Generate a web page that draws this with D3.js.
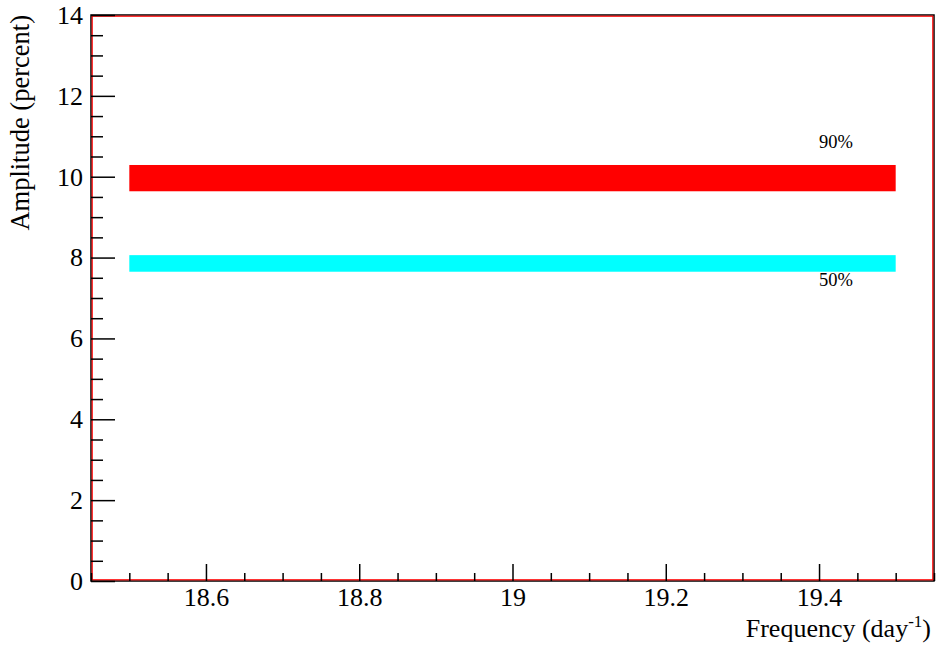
<!DOCTYPE html>
<html><head><meta charset="utf-8">
<script src="https://cdn.jsdelivr.net/npm/d3@7"></script>
<style>
html,body{margin:0;padding:0;background:#fff;}
text{font-family:"Liberation Serif","Times New Roman",serif;fill:#000;}
</style></head>
<body>
<svg id="chart" width="939" height="649"></svg>
<script>
// ---- data ----
const xDomain = [18.45, 19.55];
const yDomain = [0, 14];
const xMajorTicks = [18.6, 18.8, 19.0, 19.2, 19.4];
const xTickLabels = ["18.6", "18.8", "19", "19.2", "19.4"];
const yMajorTicks = [0, 2, 4, 6, 8, 10, 12, 14];
const yTickLabels = ["0", "2", "4", "6", "8", "10", "12", "14"];
const xMinorTicks = [18.45, 18.5, 18.55, 18.65, 18.7, 18.75, 18.85, 18.9, 18.95, 19.05, 19.1, 19.15, 19.25, 19.3, 19.35, 19.45, 19.5, 19.55];
const yMinorTicks = [0.5, 1, 1.5, 2.5, 3, 3.5, 4.5, 5, 5.5, 6.5, 7, 7.5, 8.5, 9, 9.5, 10.5, 11, 11.5, 12.5, 13, 13.5];
const bandNames = ["90%", "50%"];
const bandFrom = [18.5, 18.5];
const bandTo = [19.5, 19.5];
const bandLow = [9.64, 7.65];
const bandHigh = [10.29, 8.06];
const labelX = [19.4, 19.4];
const labelY = [10.7, 7.3];
const xTitle = "Frequency (day";
const xTitleSup = "-1";
const yTitle = "Amplitude (percent)";

// ---- layout ----
const L = 91, R = 934, T = 15, B = 581;
const bandColors = ["#ff0000", "#00ffff"];
const svg = d3.select("#chart");
svg.append("rect").attr("width", 939).attr("height", 649).attr("fill", "#fff");

const x = d3.scaleLinear().domain(xDomain).range([L, R]);
const y = d3.scaleLinear().domain(yDomain).range([B, T]);

// bands
svg.selectAll("rect.band").data(bandNames).join("rect")
  .attr("class", "band")
  .attr("x", (d, i) => x(bandFrom[i]))
  .attr("width", (d, i) => x(bandTo[i]) - x(bandFrom[i]))
  .attr("y", (d, i) => y(bandHigh[i]))
  .attr("height", (d, i) => y(bandLow[i]) - y(bandHigh[i]))
  .attr("fill", (d, i) => bandColors[i]);

svg.selectAll("text.blabel").data(bandNames).join("text")
  .attr("class", "blabel")
  .attr("x", (d, i) => x(labelX[i]))
  .attr("y", (d, i) => y(labelY[i]))
  .attr("font-size", 18.5)
  .text(d => d);

// frame
svg.append("rect").attr("x", L).attr("y", T).attr("width", R - L).attr("height", B - T)
  .attr("fill", "none").attr("stroke", "#000").attr("stroke-width", 1.5);
svg.append("rect").attr("x", L + 1.2).attr("y", T + 1.2).attr("width", R - L - 2.4).attr("height", B - T - 2.4)
  .attr("fill", "none").attr("stroke", "#ff0000").attr("stroke-width", 1.2);

// x axis
const xMajor = d3.axisBottom(x).tickValues(xMajorTicks)
  .tickFormat((d, i) => xTickLabels[i]).tickSizeInner(-17).tickSizeOuter(0).tickPadding(7);
const gx = svg.append("g").attr("transform", `translate(0,${B})`).call(xMajor);
gx.select(".domain").remove();
gx.selectAll("text").attr("font-size", 26).style("font-family", '"Liberation Serif",serif').attr("fill", "#000");
gx.selectAll("line").attr("stroke", "#000").attr("stroke-width", 1.5);

const xMinor = d3.axisBottom(x).tickValues(xMinorTicks).tickFormat("").tickSizeInner(-8).tickSizeOuter(0);
const gxm = svg.append("g").attr("transform", `translate(0,${B})`).call(xMinor);
gxm.select(".domain").remove();
gxm.selectAll("line").attr("stroke", "#000").attr("stroke-width", 1.5);

// y axis
const yMajor = d3.axisLeft(y).tickValues(yMajorTicks)
  .tickFormat((d, i) => yTickLabels[i]).tickSizeInner(-24).tickSizeOuter(0).tickPadding(8);
const gy = svg.append("g").attr("transform", `translate(${L},0)`).call(yMajor);
gy.select(".domain").remove();
gy.selectAll("text").attr("font-size", 26).style("font-family", '"Liberation Serif",serif').attr("fill", "#000");
gy.selectAll("line").attr("stroke", "#000").attr("stroke-width", 1.5);

const yMinor = d3.axisLeft(y).tickValues(yMinorTicks).tickFormat("").tickSizeInner(-12).tickSizeOuter(0);
const gym = svg.append("g").attr("transform", `translate(${L},0)`).call(yMinor);
gym.select(".domain").remove();
gym.selectAll("line").attr("stroke", "#000").attr("stroke-width", 1.5);

// titles
const xt = svg.append("text").attr("x", 931).attr("y", 637).attr("text-anchor", "end").attr("font-size", 26);
xt.append("tspan").text(xTitle);
xt.append("tspan").attr("dy", -10).attr("font-size", 17).text(xTitleSup);
xt.append("tspan").attr("dy", 10).text(")");

svg.append("text").attr("transform", "translate(29,15) rotate(-90)")
  .attr("text-anchor", "end").attr("font-size", 26.5).text(yTitle);
</script>
</body></html>
